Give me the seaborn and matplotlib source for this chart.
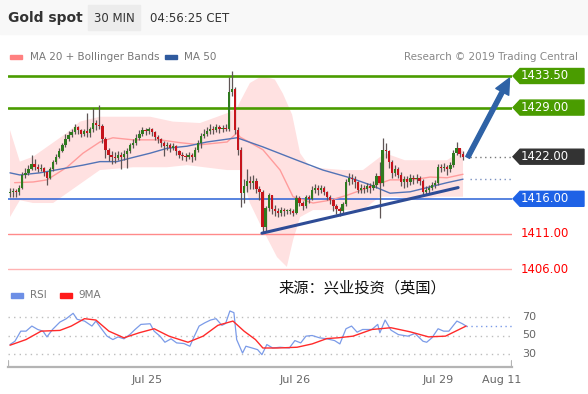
import numpy as np
import pandas as pd
import seaborn as sns
import matplotlib.pyplot as plt
from matplotlib.patches import Polygon, Rectangle
from matplotlib.transforms import blended_transform_factory

# 30 min candles (index = bar number)
first_open = 1416.8
closes = [1417.0, 1417.1, 1417.0, 1417.6, 1419.4, 1419.7, 1420.3, 1420.9, 1420.5, 1420.2,
          1420.4, 1419.8, 1419.0, 1420.2, 1421.2, 1422.0, 1422.8, 1423.6, 1424.5, 1425.1,
          1425.5, 1426.2, 1425.8, 1425.2, 1425.6, 1425.4, 1425.9, 1426.8, 1426.5, 1426.4,
          1424.5, 1423.0, 1422.3, 1422.0, 1421.8, 1422.3, 1422.0, 1422.4, 1422.8, 1423.6,
          1424.0, 1424.7, 1425.3, 1425.8, 1425.6, 1425.9, 1425.5, 1424.8, 1424.5, 1423.9,
          1423.5, 1423.7, 1423.2, 1423.5, 1422.8, 1422.3, 1422.1, 1422.0, 1422.3, 1421.9,
          1423.0, 1424.0, 1425.0, 1425.3, 1425.6, 1426.0, 1425.8, 1426.2, 1426.0, 1426.1,
          1426.0, 1431.2, 1431.6, 1425.8, 1423.0, 1416.8, 1417.8, 1418.6, 1418.2, 1418.5,
          1417.4, 1417.0, 1412.0, 1414.7, 1416.5, 1414.6, 1414.3, 1414.0, 1414.4, 1414.2,
          1414.3, 1414.3, 1414.0, 1416.1, 1415.4, 1415.0, 1416.2, 1416.0, 1417.3, 1417.6,
          1417.2, 1417.5, 1417.0, 1416.3, 1415.8, 1415.0, 1414.5, 1414.2, 1415.3, 1418.4,
          1419.0, 1418.8, 1418.4, 1417.3, 1417.6, 1417.4, 1417.8, 1417.5, 1418.0, 1419.2,
          1418.2, 1423.0, 1422.8, 1421.2, 1419.7, 1420.2, 1419.4, 1418.4, 1418.8, 1418.4,
          1419.0, 1418.8, 1419.0, 1418.5, 1417.0, 1417.3, 1417.6, 1418.0, 1418.2, 1420.6,
          1420.4, 1420.6, 1420.3, 1420.8, 1422.5, 1423.2, 1422.4, 1422.0]
highs = [1417.6, 1417.5, 1417.4, 1418.0, 1419.8, 1420.4, 1420.8, 1422.2, 1421.7, 1420.9,
         1420.9, 1420.6, 1419.9, 1420.6, 1421.6, 1422.4, 1423.2, 1424.0, 1425.2, 1425.6,
         1426.0, 1426.6, 1426.4, 1426.0, 1426.0, 1428.2, 1426.3, 1429.0, 1427.2, 1429.3,
         1426.6, 1424.8, 1423.2, 1422.8, 1422.6, 1422.8, 1422.6, 1422.9, 1423.2, 1424.0,
         1424.5, 1425.2, 1425.8, 1426.2, 1426.1, 1426.3, 1426.1, 1425.7, 1425.1, 1424.6,
         1424.2, 1424.1, 1424.0, 1423.9, 1423.7, 1423.0, 1422.6, 1422.5, 1422.7, 1422.5,
         1423.4, 1424.4, 1425.4, 1425.9, 1426.3, 1426.6, 1426.4, 1426.6, 1426.5, 1426.5,
         1426.6, 1433.4, 1434.2, 1432.0, 1426.2, 1423.4, 1418.8, 1420.2, 1419.2, 1419.4,
         1418.9, 1417.8, 1417.2, 1415.0, 1416.8, 1416.6, 1415.1, 1414.7, 1414.8, 1414.7,
         1414.6, 1414.7, 1414.5, 1416.6, 1416.4, 1415.7, 1416.6, 1416.6, 1417.8, 1418.1,
         1417.9, 1418.0, 1417.8, 1417.1, 1416.5, 1416.0, 1415.3, 1414.9, 1415.6, 1418.8,
         1419.7, 1419.6, 1419.2, 1418.6, 1418.1, 1418.0, 1418.3, 1418.2, 1418.6, 1419.7,
         1421.2, 1424.7, 1424.0, 1423.0, 1421.5, 1420.8, 1420.6, 1419.8, 1419.3, 1419.2,
         1419.5, 1419.4, 1419.5, 1419.3, 1418.8, 1417.8, 1418.0, 1418.4, 1418.7, 1421.0,
         1421.0, 1421.1, 1420.8, 1421.2, 1422.9, 1424.1, 1423.3, 1422.8]
lows = [1416.2, 1416.3, 1416.2, 1416.6, 1417.4, 1419.0, 1419.4, 1420.1, 1420.1, 1419.8,
        1419.9, 1419.3, 1418.0, 1418.8, 1420.0, 1421.0, 1421.8, 1422.6, 1423.4, 1424.2,
        1424.8, 1425.2, 1425.2, 1424.8, 1424.9, 1424.8, 1424.8, 1425.5, 1425.8, 1425.9,
        1424.0, 1421.8, 1421.4, 1421.0, 1421.1, 1421.5, 1420.3, 1421.6, 1420.4, 1422.5,
        1423.2, 1423.7, 1424.4, 1425.0, 1425.1, 1425.2, 1425.0, 1424.4, 1424.0, 1423.4,
        1422.1, 1423.0, 1422.7, 1422.9, 1422.3, 1421.8, 1421.6, 1421.4, 1421.7, 1421.3,
        1421.6, 1422.7, 1423.3, 1424.6, 1425.0, 1425.3, 1425.3, 1425.5, 1425.4, 1425.5,
        1425.6, 1425.7, 1430.6, 1425.2, 1422.2, 1414.8, 1415.4, 1417.0, 1417.4, 1417.4,
        1416.8, 1415.8, 1411.1, 1411.4, 1414.2, 1413.9, 1413.6, 1413.4, 1413.6, 1413.6,
        1413.9, 1413.9, 1413.5, 1413.8, 1415.0, 1414.4, 1414.7, 1415.4, 1415.8, 1416.9,
        1416.6, 1416.8, 1416.5, 1415.8, 1415.2, 1414.3, 1413.9, 1413.6, 1413.9, 1415.0,
        1418.0, 1418.1, 1417.6, 1416.8, 1416.9, 1416.8, 1417.0, 1416.9, 1417.2, 1417.6,
        1413.3, 1417.8, 1421.8, 1420.4, 1419.0, 1419.2, 1418.9, 1417.8, 1417.6, 1417.7,
        1418.0, 1418.1, 1418.2, 1418.0, 1416.5, 1416.6, 1416.9, 1417.3, 1417.5, 1418.0,
        1419.8, 1419.9, 1419.4, 1419.8, 1420.5, 1422.2, 1421.9, 1421.6]

# indicators (bar index, value)
upper_x = [0, 3.2, 7.5, 18.5, 22.7, 29.2, 45.5, 52.9, 61.7, 70.5, 73.7, 77.9, 81.8, 86.0,
           88.6, 91.6, 94.2, 97.4, 108.1, 114.6, 121.8, 128.2, 141.9, 147.1]
upper_y = [1425.8, 1421.3, 1422.0, 1425.4, 1427.0, 1427.7, 1427.7, 1427.0, 1426.8, 1428.2,
           1429.0, 1432.5, 1433.5, 1433.0, 1431.0, 1428.0, 1422.5, 1420.5, 1420.1, 1420.1,
           1422.5, 1421.5, 1421.5, 1423.0]
lower_x = [0, 3.2, 7.5, 14.0, 18.5, 29.2, 40.0, 51.0, 57.5, 70.5, 74.7, 77.9, 82.1, 86.7,
           89.9, 91.9, 94.2, 98.4, 108.1, 114.6, 120.1, 125.6, 132.1, 138.6, 147.1]
lower_y = [1413.4, 1415.8, 1415.4, 1415.4, 1416.8, 1420.1, 1420.5, 1420.5, 1420.8, 1420.1,
           1420.1, 1415.4, 1411.6, 1407.7, 1406.3, 1410.1, 1413.4, 1414.4, 1414.4, 1414.4,
           1416.3, 1416.3, 1415.8, 1416.3, 1416.3]
ma20_x = [1.5, 7.5, 12.0, 18.5, 23.7, 29.2, 33.4, 40.0, 48.7, 55.2, 61.7, 70.5, 73.7,
          74.7, 82.1, 87.7, 91.9, 98.4, 103.9, 109.4, 116.9, 123.4, 130.8, 136.4, 141.9, 147.1]
ma20_y = [1418.3, 1418.4, 1418.7, 1420.5, 1422.5, 1424.1, 1424.7, 1424.4, 1424.4, 1424.0,
          1423.7, 1424.1, 1425.4, 1424.8, 1423.0, 1420.1, 1416.3, 1415.4, 1415.8, 1416.5,
          1417.7, 1418.7, 1418.7, 1419.1, 1419.0, 1419.5]
ma50_x = [0, 3.2, 9.7, 18.5, 23.7, 29.2, 34.7, 40.0, 45.5, 51.0, 57.5, 64.0, 70.5, 73.7,
          82.1, 93.2, 101.6, 110.4, 116.9, 123.4, 129.9, 136.4, 141.9, 147.1]
ma50_y = [1419.7, 1419.4, 1419.7, 1420.4, 1420.8, 1421.3, 1421.3, 1421.9, 1422.5, 1423.2,
          1423.5, 1424.1, 1424.5, 1424.7, 1423.4, 1421.5, 1420.1, 1419.0, 1418.0, 1416.8,
          1417.0, 1417.7, 1418.3, 1418.8]

rsi_x = [0, 1.6, 3.5, 5.2, 7.1, 9.0, 10.7, 12.0, 13.8, 16.2, 18.2, 20.5, 21.8, 24.2, 26.6,
         27.9, 29.7, 31.5, 33.4, 35.1, 37.0, 38.9, 40.6, 42.5, 45.5, 46.8, 48.7, 50.3, 52.3,
         54.1, 56.5, 58.4, 59.6, 61.4, 63.3, 65.1, 66.9, 68.8, 70.0, 71.4, 72.7, 73.6, 75.5,
         76.6, 78.6, 80.4, 81.8, 83.4, 85.3, 87.7, 90.7, 92.5, 94.4, 96.1, 98.1, 100.5,
         102.9, 105.4, 107.1, 109.1, 110.9, 112.7, 114.5, 117.5, 119.4, 120.1, 121.8, 123.7,
         126.1, 129.2, 131.5, 134.1, 135.3, 137.0, 139.0, 140.8, 142.5, 145.1, 146.9, 148.1]
rsi_y = [40.2, 43.8, 54.7, 54.7, 60.2, 56.5, 54.7, 48.5, 56.5, 64.5, 68.0, 74.0, 67.5, 65.6,
         60.2, 65.6, 57.3, 49.3, 45.6, 48.5, 46.4, 51.0, 56.5, 62.0, 62.7, 54.7, 49.3, 42.7,
         46.4, 42.0, 41.3, 38.4, 47.5, 60.2, 63.8, 66.7, 68.2, 61.0, 63.0, 76.5, 74.7, 45.6,
         31.0, 38.4, 36.5, 34.7, 29.3, 40.2, 36.5, 37.3, 36.5, 44.5, 42.0, 49.3, 50.0, 47.5,
         46.4, 44.5, 40.9, 57.3, 60.2, 53.6, 56.5, 56.5, 62.0, 52.9, 66.7, 55.8, 51.0, 49.3,
         52.2, 43.8, 42.7, 47.5, 57.3, 54.7, 54.7, 65.6, 62.7, 60.2]
ma9_x = [0, 5.2, 10.1, 16.2, 19.9, 24.2, 27.9, 32.1, 37.0, 41.9, 46.8, 51.6, 57.8, 62.7,
         67.5, 72.4, 76.0, 79.7, 82.1, 87.0, 93.2, 98.1, 102.9, 106.5, 111.4, 117.5, 123.7,
         129.9, 135.9, 141.4, 148.1]
ma9_y = [39.5, 45.6, 54.7, 55.5, 60.2, 68.2, 66.7, 54.7, 47.5, 52.9, 57.3, 49.3, 42.7,
         49.3, 61.0, 65.6, 54.7, 45.6, 36.5, 36.5, 37.3, 40.9, 46.7, 47.5, 49.3, 56.5, 58.4,
         54.0, 48.5, 49.3, 60.2]

trend_x = [81.8, 145.5]
trend_y = [1411.1, 1417.6]
arrow_x = [148.6, 162.2]
arrow_y = [1421.9, 1433.2]

levels = [1433.5, 1429.0, 1422.0, 1416.0, 1411.0, 1406.0]
level_labels = ["1433.50", "1429.00", "1422.00", "1416.00", "1411.00", "1406.00"]
date_pos = [44.5, 92.5, 139.0, 159.5]
date_labels = ["Jul 25", "Jul 26", "Jul 29", "Aug 11"]
rsi_levels = [30, 50, 70]

sns.set_theme(style="white")
plt.rcParams["font.family"] = ["DejaVu Sans", "Noto Sans CJK SC"]

W, H = 588, 394
fig = plt.figure(figsize=(W / 100, H / 100), dpi=100)
fig.patch.set_facecolor("white")

def fx(px):
    return px / W

def fy(py):
    return 1 - py / H

XMIN, XMAX = -0.65, 163.0
ax = fig.add_axes([fx(8), fy(282), fx(504), 212 / H])
ax.set_xlim(XMIN, XMAX)
ax.set_ylim(1406 - 13 / 7.02, 1433.5 + 6 / 7.02)
ax.axis("off")

# bollinger band + MAs
ax.fill(np.r_[upper_x, lower_x[::-1]], np.r_[upper_y, lower_y[::-1]],
        color="#ffe1e1", lw=0, zorder=1)
sns.lineplot(x=ma20_x, y=ma20_y, ax=ax, color="#ff9c9c", lw=1.0, sort=False, zorder=3)
sns.lineplot(x=ma50_x, y=ma50_y, ax=ax, color="#5273b6", lw=1.0, sort=False, zorder=3)

# level lines
ax.axhline(1433.5, color="#4a9c00", lw=1.9, zorder=2)
ax.axhline(1429.0, color="#4a9c00", lw=1.9, zorder=2)
ax.axhline(1416.0, color="#2a62d6", lw=1.1, zorder=2)
ax.axhline(1411.0, color="#ff8a8a", lw=1.0, zorder=2)
ax.axhline(1406.0, color="#ffb3b3", lw=1.0, zorder=2)
ax.plot([149.5, XMAX], [1422.0, 1422.0], color="#777777", lw=1.0, ls=(0, (1, 2.5)), zorder=2)
ax.plot([149.5, XMAX], [ma50_y[-1], ma50_y[-1]], color="#7a90c0", lw=1.0, ls=(0, (1, 2.5)), zorder=2)

# candles
df = pd.DataFrame({"close": closes, "high": highs, "low": lows})
df["open"] = [first_open] + closes[:-1]
df["i"] = np.arange(len(df))
up = df["close"] >= df["open"]
ax.vlines(df["i"], df["low"], df["high"], color="#5f5555", lw=0.9, zorder=4)
body_lo = np.minimum(df["open"], df["close"])
body_h = np.maximum((df["close"] - df["open"]).abs(), 0.15)
ax.bar(df["i"], body_h, bottom=body_lo, width=0.75,
       color=np.where(up, "#2f7a1f", "#c6141c"), lw=0, zorder=5)

# analyst drawings
ax.plot(trend_x, trend_y, color="#2e4c96", lw=2.2, solid_capstyle="round", zorder=6)
ax.annotate("", xy=(arrow_x[1], arrow_y[1]), xytext=(arrow_x[0], arrow_y[0]),
            arrowprops=dict(arrowstyle="simple,head_width=0.75,head_length=0.8,tail_width=0.22",
                            color="#2e62a6", mutation_scale=14, shrinkA=0, shrinkB=0),
            zorder=7, annotation_clip=False)

# price tags on the right
tr = blended_transform_factory(fig.transFigure, ax.transData)
tag_colors = {"1433.50": "#4a9c00", "1429.00": "#4a9c00", "1422.00": "#333333", "1416.00": "#1e62e6"}
hh = 7.5 / 7.02
for p, lab in zip(levels, level_labels):
    if lab in tag_colors:
        poly = Polygon([(fx(513), p), (fx(520), p + hh), (fx(584), p + hh),
                        (fx(584), p - hh), (fx(520), p - hh)],
                       closed=True, transform=tr, color=tag_colors[lab], clip_on=False)
        fig.patches.append(poly)
        fig.text(fx(545), p, lab, transform=tr, color="white", size=8.4,
                 ha="center", va="center")
    else:
        fig.text(fx(545), p, lab, transform=tr, color="#ff0000", size=8.4,
                 ha="center", va="center")

# RSI panel
rax = fig.add_axes([fx(8), fy(367), fx(504), 67 / H])
rax.set_xlim(XMIN, XMAX)
rax.set_ylim(30 - 13 / 0.925, 70 + 17 / 0.925)
for lv in rsi_levels:
    rax.axhline(lv, color="#bdbdbd", lw=1.0, ls=(0, (1, 3)), zorder=1)
    rax.text(1.02, lv, str(lv), transform=blended_transform_factory(rax.transAxes, rax.transData),
             color="#666666", size=8, va="center", ha="left")
sns.lineplot(x=rsi_x, y=rsi_y, ax=rax, color="#7b9be8", lw=0.9, sort=False, zorder=3)
sns.lineplot(x=ma9_x, y=ma9_y, ax=rax, color="#ff2a2a", lw=1.0, sort=False, zorder=4)
rax.plot([rsi_x[-1], XMAX], [rsi_y[-1], rsi_y[-1]], color="#7b9be8", lw=1.0,
         ls=(0, (1, 2.5)), zorder=2)
for s in ["top", "left", "right"]:
    rax.spines[s].set_visible(False)
rax.spines["bottom"].set_color("#b4b4b4")
rax.spines["bottom"].set_linewidth(1.6)
rax.axvline(XMIN, ymin=0, ymax=0.09, color="#b4b4b4", lw=1.6)
rax.axvline(XMAX, ymin=0, ymax=0.09, color="#b4b4b4", lw=1.6)
rax.set_yticks([])
rax.set_xticks(date_pos)
rax.set_xticklabels(date_labels, color="#666666", size=8)
rax.tick_params(axis="x", length=0, pad=6)

# header
fig.patches.append(Rectangle((0, fy(34)), 1, 34 / H, transform=fig.transFigure,
                             color="#f8f8f8", zorder=0))
fig.patches.append(Rectangle((fx(88), fy(30)), fx(52), 25 / H, transform=fig.transFigure,
                             color="#ececec", zorder=1))
fig.text(fx(8), fy(18), "Gold spot", size=10, weight="bold", color="#333333", va="center")
fig.text(fx(114), fy(18), "30 MIN", size=8.5, color="#333333", va="center", ha="center")
fig.text(fx(150), fy(18), "04:56:25 CET", size=8.5, color="#333333", va="center")

# legends
fig.patches.append(Rectangle((fx(10), fy(59)), fx(12), 4.5 / H, transform=fig.transFigure,
                             color="#ff8080"))
fig.text(fx(30), fy(57), "MA 20 + Bollinger Bands", size=7.5, color="#777777", va="center")
fig.patches.append(Rectangle((fx(165), fy(59)), fx(12), 4.5 / H, transform=fig.transFigure,
                             color="#2f5a9e"))
fig.text(fx(184), fy(57), "MA 50", size=7.5, color="#777777", va="center")
fig.text(fx(578), fy(57), "Research \u00a9 2019 Trading Central", size=7.5, color="#888888",
         va="center", ha="right")
fig.patches.append(Rectangle((fx(11), fy(297.5)), fx(12), 4.5 / H, transform=fig.transFigure,
                             color="#6d8fe6"))
fig.text(fx(30), fy(295.5), "RSI", size=7.5, color="#777777", va="center")
fig.patches.append(Rectangle((fx(60), fy(297.5)), fx(12), 4.5 / H, transform=fig.transFigure,
                             color="#ff1a1a"))
fig.text(fx(78), fy(295.5), "9MA", size=7.5, color="#777777", va="center")

fig.text(fx(362), fy(288), "来源：兴业投资（英国）", size=11, color="#111111",
         ha="center", va="center", family=["Noto Sans CJK SC", "DejaVu Sans"])

fig.savefig("out.png", dpi=100)
